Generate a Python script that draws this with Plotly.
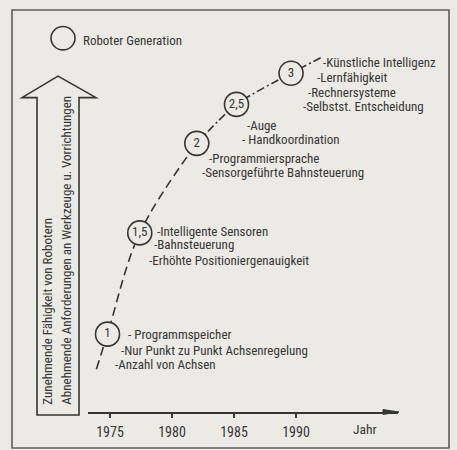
import plotly.graph_objects as go

# ---------------- data ----------------
gen_names = ["1", "1,5", "2", "2,5", "3"]
gen_years = [1974.8, 1977.4, 1982.0, 1985.2, 1989.6]
gen_level = [20, 46, 69, 79, 87]          # arbitrary capability units

curve_start_year, curve_start_level = 1973.9, 11
curve_end_year, curve_end_level = 1992.0, 91

gen_features = [
    ["- Programmspeicher", "-Nur Punkt zu Punkt Achsenregelung", "-Anzahl von Achsen"],
    ["-Intelligente Sensoren", "-Bahnsteuerung", "-Erhöhte Positioniergenauigkeit"],
    ["-Programmiersprache", "-Sensorgeführte Bahnsteuerung"],
    ["-Auge", "- Handkoordination"],
    ["-Künstliche Intelligenz", "-Lernfähigkeit", "-Rechnersysteme", "-Selbstst. Entscheidung"],
]

tick_years = [1975, 1980, 1985, 1990]
tick_labels = ["1975", "1980", "1985", "1990"]
x_axis_title = "Jahr"
x_axis_title_year = 1995.6
legend_text = "Roboter Generation"
arrow_lines = ["Zunehmende Fähigkeit von Robotern",
               "Abnehmende Anforderungen an Werkzeuge u. Vorrichtungen"]

# ---------------- style / layout ----------------
W, H = 457, 450
ML, MR, MT, MB = 88, 59, 10, 27
PW, PH = W - ML - MR, H - MT - MB
BG = "#ebeae5"
INK = "#363636"
FRAME = "#5e5e5e"
FONT = "Roboto Condensed, Roboto, sans-serif"
FS = 13

def px(x):  # pixel x -> paper
    return (x - ML) / PW

def py(y):  # pixel y -> paper
    return (H - MB - y) / PH

# label offsets (pixels, relative to each generation circle)
offsets = [
    [(18, 0), (11, 16), (5, 30)],
    [(15, -1), (12, 12), (7, 28)],
    [(10, 15), (3, 29)],
    [(9, 21), (4, 35)],
    [(30, -11), (24, 4), (15, 19), (10, 33)],
]

fig = go.Figure()

# lower dashed part (start -> gen 2)
fig.add_trace(go.Scatter(
    x=[curve_start_year] + gen_years[:3],
    y=[curve_start_level] + gen_level[:3],
    mode="lines", line=dict(color=INK, width=1.6, dash="9px,5px", shape="spline", smoothing=1.0),
    hoverinfo="skip", showlegend=False))
# upper dash-dot part (gen 2 -> end)
fig.add_trace(go.Scatter(
    x=gen_years[2:] + [curve_end_year],
    y=gen_level[2:] + [curve_end_level],
    mode="lines", line=dict(color=INK, width=1.6, dash="8px,3px,2px,3px", shape="spline", smoothing=0.8),
    hoverinfo="skip", showlegend=False))
# generation circles
fig.add_trace(go.Scatter(
    x=gen_years, y=gen_level, mode="markers+text", text=gen_names,
    textposition="middle center",
    textfont=dict(family=FONT, size=13, color=INK),
    marker=dict(size=24, color=BG, line=dict(color=INK, width=1.6)),
    cliponaxis=False, hoverinfo="skip", showlegend=False))

annotations = []
for gy, gl, feats, offs in zip(gen_years, gen_level, gen_features, offsets):
    for t, (dx, dy) in zip(feats, offs):
        annotations.append(dict(
            x=gy, y=gl, xref="x", yref="y", text=t, showarrow=False,
            xanchor="left", yanchor="middle", xshift=dx, yshift=-dy,
            font=dict(family=FONT, size=FS, color=INK)))

# x axis title
annotations.append(dict(x=x_axis_title_year, y=0, xref="x", yref="paper", text=x_axis_title,
                        showarrow=False, xanchor="center", yanchor="top", yshift=-7,
                        font=dict(family=FONT, size=13.5, color=INK)))
# legend text
annotations.append(dict(x=px(81), y=py(41), xref="paper", yref="paper", text=legend_text,
                        showarrow=False, xanchor="left", yanchor="middle",
                        font=dict(family=FONT, size=FS, color=INK)))
# rotated arrow texts
for cx, t in zip([48, 67], arrow_lines):
    annotations.append(dict(x=px(cx), y=py(418), xref="paper", yref="paper", text=t,
                            showarrow=False, xanchor="center", yanchor="bottom", textangle=-90,
                            font=dict(family=FONT, size=FS, color=INK)))

shapes = []
# outer frame
shapes.append(dict(type="rect", xref="paper", yref="paper",
                   x0=px(12), x1=px(449), y0=py(460), y1=py(10),
                   line=dict(color=FRAME, width=1.6), layer="below"))
# legend circle
shapes.append(dict(type="circle", xref="paper", yref="paper",
                   x0=px(51), x1=px(75), y0=py(51), y1=py(27),
                   line=dict(color=INK, width=1.6)))
# big vertical arrow
pts = [(37, 426), (37, 100), (22, 100), (58, 78), (96, 100), (79, 100), (79, 426)]
path = "M " + " L ".join(f"{px(a):.4f},{py(b):.4f}" for a, b in pts) + " Z"
shapes.append(dict(type="path", xref="paper", yref="paper", path=path,
                   line=dict(color=INK, width=1.6)))
# x-axis arrow head
head = [(383, 420.5), (399, 423), (383, 425.5)]
hpath = "M " + " L ".join(f"{px(a):.4f},{py(b):.4f}" for a, b in head) + " Z"
shapes.append(dict(type="path", xref="paper", yref="paper", path=hpath,
                   fillcolor=INK, line=dict(color=INK, width=1)))

fig.update_layout(
    width=W, height=H, autosize=False,
    margin=dict(l=ML, r=MR, t=MT, b=MB, pad=0),
    paper_bgcolor=BG, plot_bgcolor=BG,
    showlegend=False,
    xaxis=dict(range=[1975 - 22 / 12.4, 1975 + 288 / 12.4], tickvals=tick_years, ticktext=tick_labels,
               showline=True, linecolor=INK, linewidth=1.6, ticks="outside", ticklen=4,
               ticklabelstandoff=2,
               tickcolor=INK, tickwidth=1.5, showgrid=False, zeroline=False,
               tickfont=dict(family=FONT, size=14, color=INK), fixedrange=True),
    yaxis=dict(range=[0, 103.25], visible=False, showgrid=False, zeroline=False, fixedrange=True),
    annotations=annotations, shapes=shapes,
)

fig.write_html(
    "out.html",
    config={"displayModeBar": False},
    post_script=("document.body.style.margin='0';"
                 "document.body.style.background='#ebeae5';"
                 "document.documentElement.style.overflow='hidden';"),
)
